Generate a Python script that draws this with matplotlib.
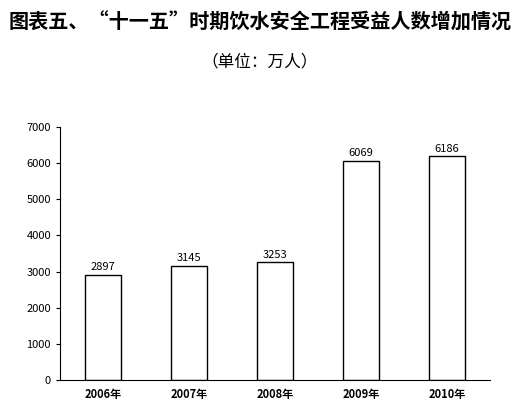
import matplotlib
matplotlib.use('Agg')
import matplotlib.pyplot as plt

plt.rcParams['font.family'] = ['Noto Sans CJK SC', 'DejaVu Sans']

years = ['2006年', '2007年', '2008年', '2009年', '2010年']
values = [2897, 3145, 3253, 6069, 6186]

fig = plt.figure(figsize=(5.2, 4.17), dpi=100)
ax = fig.add_axes([60 / 520, 37 / 417, 430 / 520, 253 / 417])

x = range(len(years))
ax.bar(x, values, width=0.41, color='white', edgecolor='black', linewidth=1.0)
for xi, v in zip(x, values):
    ax.text(xi, v + 80, str(v), ha='center', va='bottom', fontsize=8)

ax.set_xlim(-0.5, len(years) - 0.5)
ax.set_ylim(0, 7000)
ax.set_yticks(range(0, 7001, 1000))
ax.set_xticks(list(x))
ax.set_xticklabels(years, fontsize=8, fontweight='bold')
ax.tick_params(axis='y', labelsize=8, length=3)
ax.tick_params(axis='x', length=0, pad=6)
ax.spines['top'].set_visible(False)
ax.spines['right'].set_visible(False)

fig.text(0.5, 1 - 22 / 417, '图表五、“十一五”时期饮水安全工程受益人数增加情况',
         ha='center', va='center', fontsize=14.5, fontweight='bold')
fig.text(0.5, 1 - 62 / 417, '（单位：万人）', ha='center', va='center', fontsize=12)

fig.savefig('out.png', dpi=100)
